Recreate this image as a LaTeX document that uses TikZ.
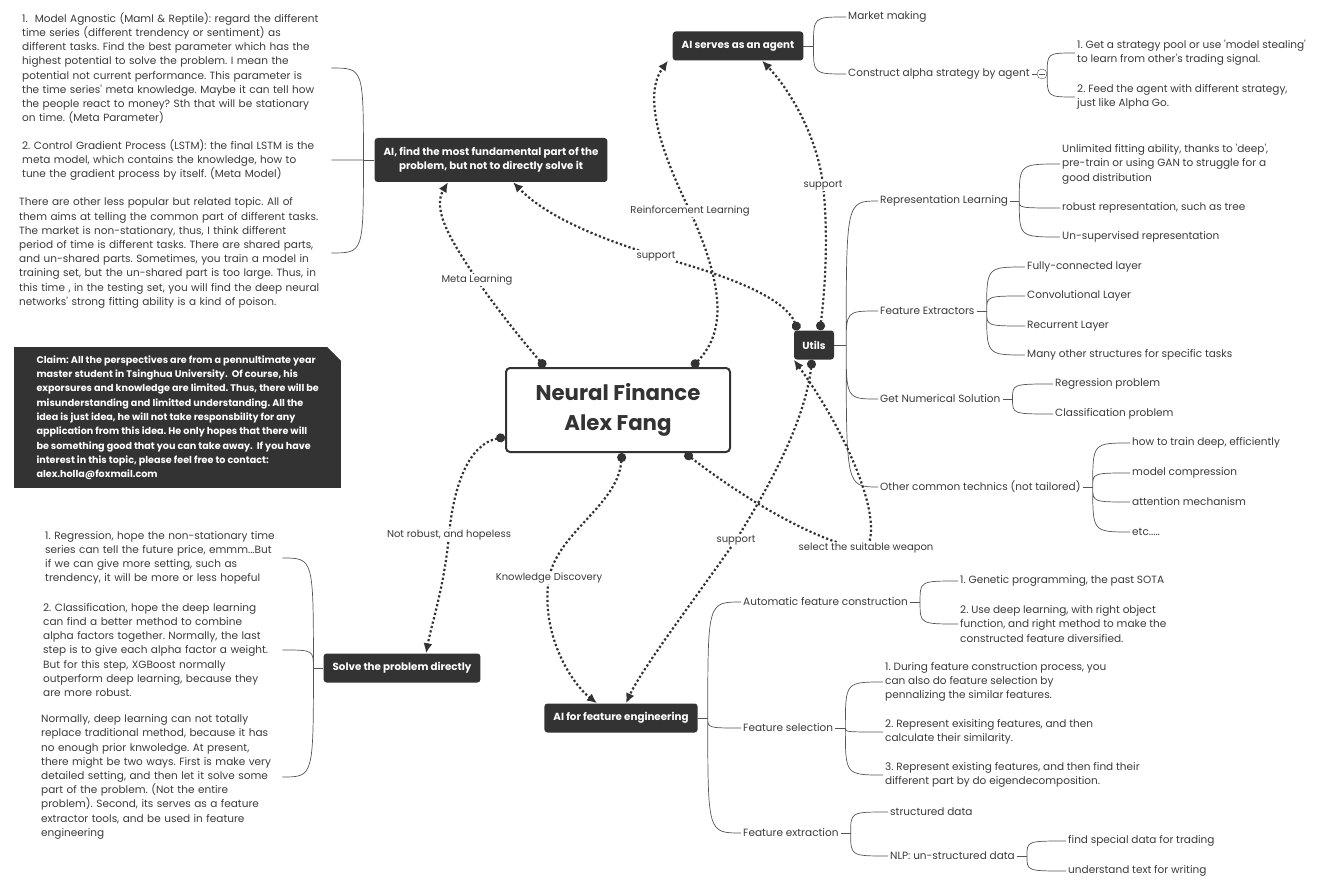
\documentclass[tikz,border=0pt]{standalone}
\usepackage{fontspec}
\setmainfont{Poppins}
\usetikzlibrary{arrows.meta}

\definecolor{boxgray}{HTML}{333333}
\definecolor{inkgray}{HTML}{3A3A3A}
\definecolor{twiggray}{HTML}{555555}

\tikzset{
  root/.style={draw=boxgray, line width=2pt, fill=white, rounded corners=4pt,
    minimum width=224pt, minimum height=84pt, align=center, text=boxgray,
    font=\bfseries\fontsize{21.3}{30}\selectfont},
  topic/.style={fill=boxgray, text=white, rounded corners=3pt, inner xsep=9pt,
    minimum height=29pt, align=center, font=\bfseries\fontsize{10.3}{14}\selectfont},
  leaf/.style={anchor=west, align=left, inner sep=2pt, text=inkgray,
    font=\fontsize{10.5}{14.3}\selectfont},
  note/.style={leaf, text width=#1, font=\fontsize{10.5}{14.2}\selectfont},
  claimbox/.style={fill=boxgray, text=white, anchor=north west, align=left,
    minimum width=327pt, minimum height=141pt, inner sep=0pt,
    font=\bfseries\fontsize{9.6}{14.3}\selectfont},
  fold/.style={circle, draw=twiggray, fill=white, minimum size=10pt, inner sep=0pt},
  branch/.style={draw=twiggray, line width=0.7pt},
  twig/.style={to path={.. controls (\tikztostart |- \tikztotarget) .. (\tikztotarget)}},
  relation/.style={draw=boxgray, line width=2.2pt, dash pattern=on 2.2pt off 2.3pt,
    {Circle[length=9pt]}-{Latex[length=10pt,width=9pt]}},
  rlabel/.style={fill=white, inner sep=1pt, text=inkgray,
    font=\fontsize{10}{12}\selectfont}
}

\begin{document}
\frenchspacing
\begin{tikzpicture}[x=1pt,y=-1pt]
    \useasboundingbox (0,0) rectangle (1321,893);

    % central topic and main topics
    \node[root] (main) at (618,410) {Neural Finance\\Alex Fang};
    \node[topic] (agent) at (738,46) {AI serves as an agent};
    \node[topic, minimum height=44pt] (find) at (491,160) {AI, find the most fundamental part of the\\problem, but not to directly solve it};
    \node[topic, minimum width=40pt, inner xsep=0pt] (utils) at (814,345) {Utils};
    \node[topic] (solve) at (402,668) {Solve the problem directly};
    \node[topic] (afe) at (621,718) {AI for feature engineering};

    % claim note
    \node[claimbox] (claim) at (14,347) {Claim: All the perspectives are from a pennultimate year\\
      master student in Tsinghua University.~ Of course, his\\
      exporsures and knowledge are limited. Thus, there will be\\
      misunderstanding and limitted understanding. All the\\
      idea is just idea, he will not take responsbility for any\\
      application from this idea. He only hopes that there will\\
      be something good that you can take away.~ If you have\\
      interest in this topic, please feel free to contact:\\
      alex.holla@foxmail.com};
    \fill[white] ([xshift=-14pt]claim.north east) -- (claim.north east) -- ([yshift=-14pt]claim.north east) -- cycle;

    % agent
    \node[leaf] (mm) at (846,17) {Market making};
    \node[leaf] (cas) at (846,74) {Construct alpha strategy by agent};
    \node[fold] (cmin) at (1042,74) {};
    \node[leaf] (cas1) at (1075,53) {1. Get a strategy pool or use \textquotesingle model stealing\textquotesingle\\to learn from other\textquotesingle s trading signal.};
    \node[leaf] (cas2) at (1075,97) {2. Feed the agent with different strategy,\\just like Alpha Go.};
    \coordinate (agentf) at ([xshift=10pt]agent.east);
    \draw[branch] (agent.east) -- (agentf);
    \draw[branch, twig] (agentf) to (mm.west) (agentf) to (cas.west);
    \draw[branch] (cas.east) -- (cmin.west);
    \draw[branch] ([xshift=2pt]cmin.west) -- ([xshift=-2pt]cmin.east);
    \draw[branch, twig] (cmin.east) to (cas1.west) (cmin.east) to (cas2.west);

    % utils
    \node[leaf] (rl) at (878,201) {Representation Learning};
    \node[leaf] (fe) at (878,311) {Feature Extractors};
    \node[leaf] (gns) at (878,399) {Get Numerical Solution};
    \node[leaf] (oct) at (878,487) {Other common technics (not tailored)};
    \coordinate (utilsf) at ([xshift=12pt]utils.east);
    \draw[branch] (utils.east) -- (utilsf);
    \draw[branch, twig] (utilsf) to (rl.west) (utilsf) to (fe.west)
        (utilsf) to (gns.west) (utilsf) to (oct.west);

    \node[leaf] (rl1) at (1060,164) {Unlimited fitting ability, thanks to \textquotesingle deep\textquotesingle,\\pre-train or using GAN to struggle for a\\good distribution};
    \node[leaf] (rl2) at (1060,208) {robust representation, such as tree};
    \node[leaf] (rl3) at (1060,237) {Un-supervised representation};
    \coordinate (rlf) at ([xshift=9pt]rl.east);
    \draw[branch] (rl.east) -- (rlf);
    \draw[branch, twig] (rlf) to (rl1.west) (rlf) to (rl2.west) (rlf) to (rl3.west);

    \node[leaf] (fe1) at (1025,267) {Fully-connected layer};
    \node[leaf] (fe2) at (1025,296) {Convolutional Layer};
    \node[leaf] (fe3) at (1025,326) {Recurrent Layer};
    \node[leaf] (fe4) at (1025,355) {Many other structures for specific tasks};
    \coordinate (fef) at ([xshift=10pt]fe.east);
    \draw[branch] (fe.east) -- (fef);
    \draw[branch, twig] (fef) to (fe1.west) (fef) to (fe2.west) (fef) to (fe3.west) (fef) to (fe4.west);

    \node[leaf] (gns1) at (1053,384) {Regression problem};
    \node[leaf] (gns2) at (1053,414) {Classification problem};
    \coordinate (gnsf) at ([xshift=10pt]gns.east);
    \draw[branch] (gns.east) -- (gnsf);
    \draw[branch, twig] (gnsf) to (gns1.west) (gnsf) to (gns2.west);

    \node[leaf] (oct1) at (1130,443) {how to train deep, efficiently};
    \node[leaf] (oct2) at (1130,473) {model compression};
    \node[leaf] (oct3) at (1130,502) {attention mechanism};
    \node[leaf] (oct4) at (1130,532) {etc.....};
    \coordinate (octf) at ([xshift=10pt]oct.east);
    \draw[branch] (oct.east) -- (octf);
    \draw[branch, twig] (octf) to (oct1.west) (octf) to (oct2.west) (octf) to (oct3.west) (octf) to (oct4.west);

    % feature engineering
    \node[leaf] (afc) at (741,602) {Automatic feature construction};
    \node[leaf] (fs) at (741,728) {Feature selection};
    \node[leaf] (fx) at (741,833) {Feature extraction};
    \coordinate (afef) at ([xshift=10pt]afe.east);
    \draw[branch] (afe.east) -- (afef);
    \draw[branch, twig] (afef) to (afc.west) (afef) to (fs.west) (afef) to (fx.west);

    \node[leaf] (afc1) at (958,581) {1. Genetic programming, the past SOTA};
    \node[leaf] (afc2) at (958,624) {2. Use deep learning, with right object\\function, and right method to make the\\constructed feature diversified.};
    \coordinate (afcf) at ([xshift=10pt]afc.east);
    \draw[branch] (afc.east) -- (afcf);
    \draw[branch, twig] (afcf) to (afc1.west) (afcf) to (afc2.west);

    \node[leaf] (fs1) at (883,682) {1. During feature construction process, you\\can also do feature selection by\\pennalizing the similar features.};
    \node[leaf] (fs2) at (883,732) {2. Represent exisiting features, and then\\calculate their similarity.};
    \node[leaf] (fs3) at (883,775) {3. Represent existing features, and then find their\\different part by do eigendecomposition.};
    \coordinate (fsf) at ([xshift=10pt]fs.east);
    \draw[branch] (fs.east) -- (fsf);
    \draw[branch, twig] (fsf) to (fs1.west) (fsf) to (fs2.west) (fsf) to (fs3.west);

    \node[leaf] (fx1) at (888,812) {structured data};
    \node[leaf] (fx2) at (888,856) {NLP: un-structured data};
    \coordinate (fxf) at ([xshift=10pt]fx.east);
    \draw[branch] (fx.east) -- (fxf);
    \draw[branch, twig] (fxf) to (fx1.west) (fxf) to (fx2.west);

    \node[leaf] (nlp1) at (1066,841) {find special data for trading};
    \node[leaf] (nlp2) at (1066,871) {understand text for writing};
    \coordinate (nlpf) at ([xshift=10pt]fx2.east);
    \draw[branch] (fx2.east) -- (nlpf);
    \draw[branch, twig] (nlpf) to (nlp1.west) (nlpf) to (nlp2.west);

    % meta learning notes
    \node[note=307pt] (mp1) at (20,68) {1.~ Model Agnostic (Maml \& Reptile): regard the different\\
      time series (different trendency or sentiment) as\\
      different tasks. Find the best parameter which has the\\
      highest potential to solve the problem. I mean the\\
      potential not current performance. This parameter is\\
      the time series\textquotesingle{} meta knowledge. Maybe it can tell how\\
      the people react to money? Sth that will be stationary\\
      on time. (Meta Parameter)};
    \node[note=307pt] (mp2) at (20,160) {2. Control Gradient Process (LSTM): the final LSTM is the\\
      meta model, which contains the knowledge, how to\\
      tune the gradient process by itself. (Meta Model)};
    \node[note=310pt] (mp3) at (17,253) {There are other less popular but related topic. All of\\
      them aims at telling the common part of different tasks.\\
      The market is non-stationary, thus, I think different\\
      period of time is different tasks. There are shared parts,\\
      and un-shared parts. Sometimes, you train a model in\\
      training set, but the un-shared part is too large. Thus, in\\
      this time , in the testing set, you will find the deep neural\\
      networks\textquotesingle{} strong fitting ability is a kind of poison.};
    \coordinate (findf) at ([xshift=-11pt]find.west);
    \draw[branch] (find.west) -- (findf);
    \draw[branch, twig] (findf) to (mp1.east) (findf) to (mp2.east) (findf) to (mp3.east);

    % direct solving notes
    \node[note=235pt] (sp1) at (43,558) {1. Regression, hope the non-stationary time\\
      series can tell the future price, emmm...But\\
      if we can give more setting, such as\\
      trendency, it will be more or less hopeful};
    \node[note=237pt] (sp2) at (41,650) {2. Classification, hope the deep learning\\
      can find a better method to combine\\
      alpha factors together. Normally, the last\\
      step is to give each alpha factor a weight.\\
      But for this step, XGBoost normally\\
      outperform deep learning, because they\\
      are more robust.};
    \node[note=239pt] (sp3) at (39,777) {Normally, deep learning can not totally\\
      replace traditional method, because it has\\
      no enough prior knwoledge. At present,\\
      there might be two ways. First is make very\\
      detailed setting, and then let it solve some\\
      part of the problem. (Not the entire\\
      problem). Second, its serves as a feature\\
      extractor tools, and be used in feature\\
      engineering};
    \coordinate (solvef) at ([xshift=-10pt]solve.west);
    \draw[branch] (solve.west) -- (solvef);
    \draw[branch, twig] (solvef) to (sp1.east) (solvef) to (sp2.east) (solvef) to (sp3.east);

    % relations
    \coordinate (cmeta) at (477,280);
    \coordinate (crl) at (690,211);
    \coordinate (csa) at (823,185);
    \coordinate (csf) at (656,256);
    \coordinate (cnr) at (449,535);
    \coordinate (ckd) at (549,578);
    \coordinate (csx) at (736,540);
    \coordinate (csw) at (866,548);

    \draw[relation] ([xshift=-73pt]main.north) .. controls (515,332) and (492,302) .. (cmeta)
        .. controls (458,250) and (430,212) .. ([xshift=-43pt]find.south);
    \draw[relation] ([xshift=74pt]main.north) .. controls (728,330) and (722,282) .. (crl)
        .. controls (655,140) and (645,92) .. ([xshift=-70pt]agent.south);
    \draw[relation] ([xshift=6pt]utils.north) .. controls (826,280) and (828,230) .. (csa)
        .. controls (818,140) and (792,92) .. ([xshift=24pt]agent.south);
    \draw[relation] ([xshift=-16pt]utils.north) .. controls (785,298) and (730,276) .. (csf)
        .. controls (592,236) and (545,215) .. ([xshift=22pt]find.south);
    \draw[relation] ([yshift=-27pt]main.west) .. controls (470,444) and (454,482) .. (cnr)
        .. controls (444,588) and (432,622) .. ([xshift=24pt]solve.north);
    \draw[relation] ([xshift=4pt]main.south) .. controls (618,505) and (558,532) .. (ckd)
        .. controls (540,632) and (570,682) .. ([xshift=-24pt]afe.north);
    \draw[relation] ([xshift=-2pt]utils.south) .. controls (805,420) and (772,482) .. (csx)
        .. controls (700,592) and (642,668) .. ([xshift=5pt]afe.north);
    \draw[relation] ([xshift=67pt]main.south) .. controls (752,505) and (830,548) .. (csw)
        .. controls (884,525) and (852,440) .. (utils.south west);

    \node[rlabel] (lmeta) at (cmeta) {Meta Learning};
    \node[rlabel] (lrl) at (crl) {Reinforcement Learning};
    \node[rlabel] (lsa) at (csa) {support};
    \node[rlabel] (lsf) at (csf) {support};
    \node[rlabel] (lnr) at (cnr) {Not robust, and hopeless};
    \node[rlabel] (lkd) at (ckd) {Knowledge Discovery};
    \node[rlabel] (lsx) at (csx) {support};
    \node[rlabel] (lsw) at (csw) {select the suitable weapon};

\end{tikzpicture}
\end{document}
